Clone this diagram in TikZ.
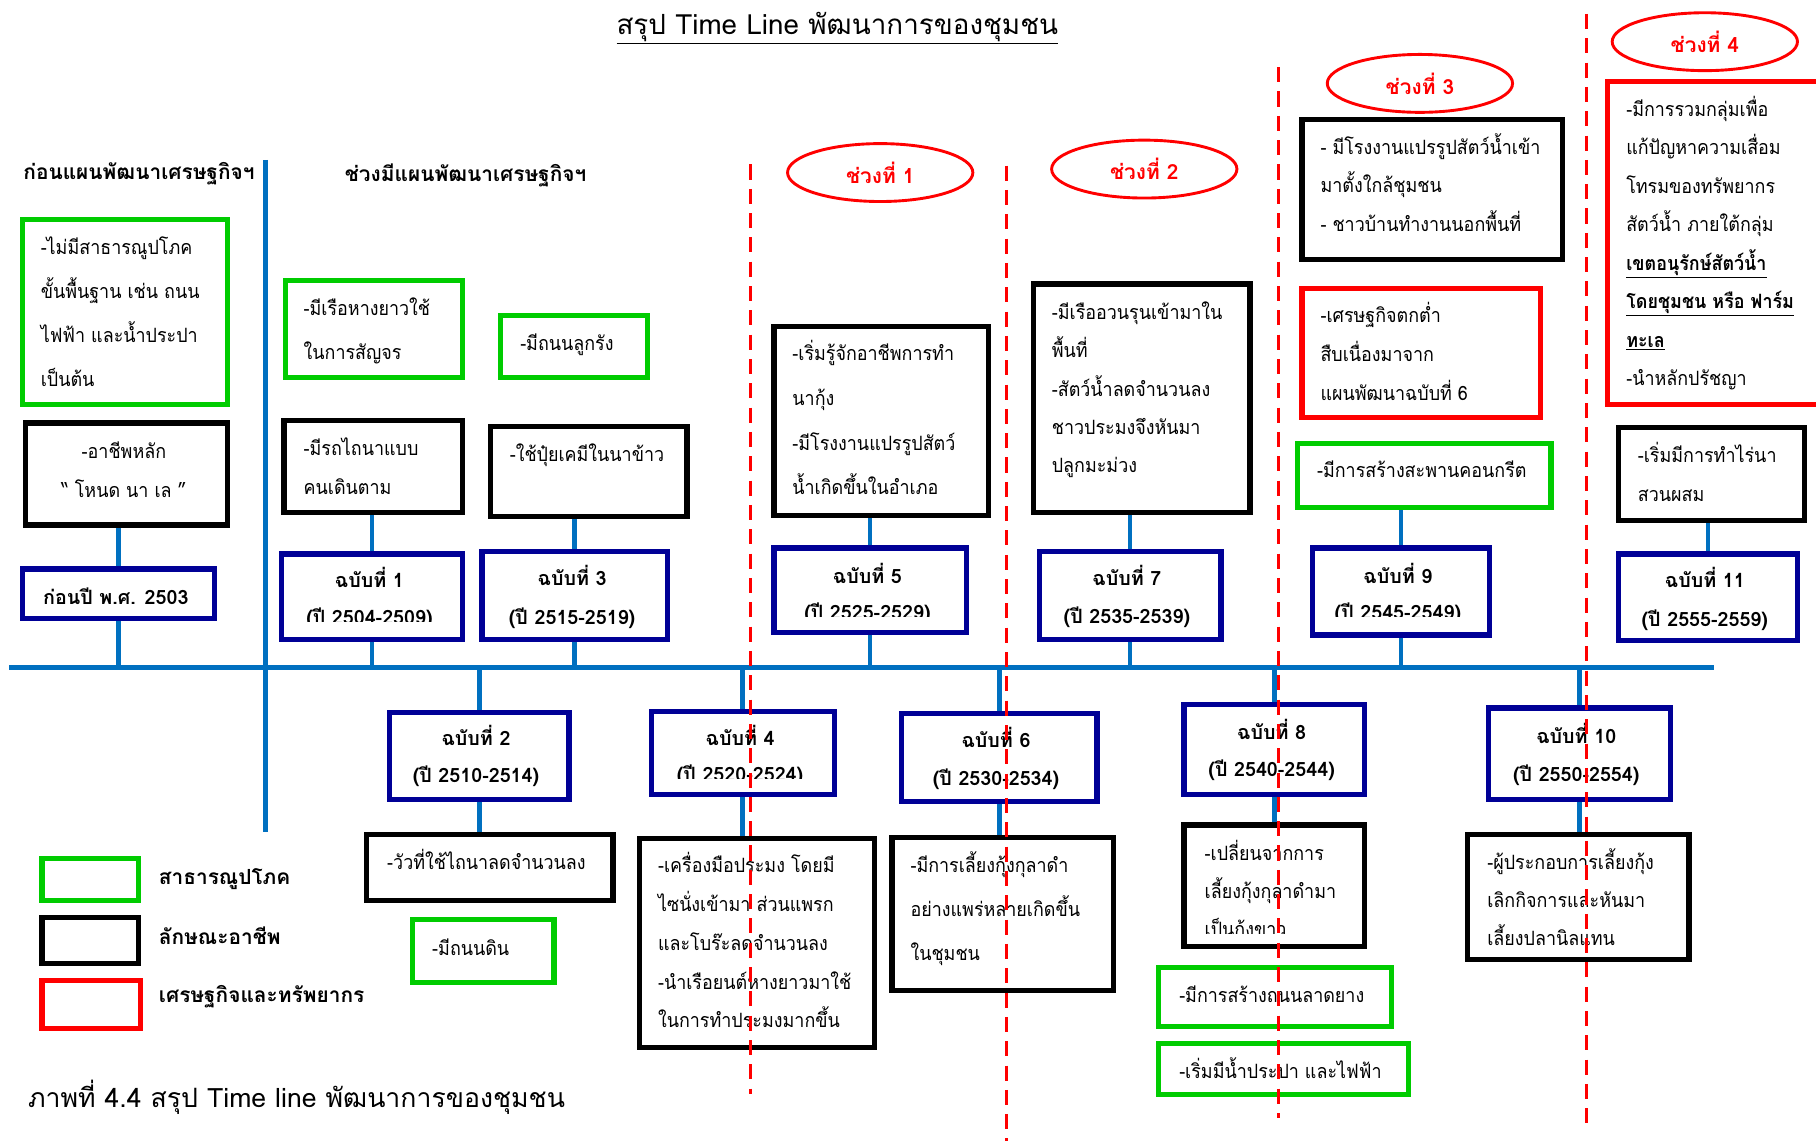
\documentclass[tikz,border=0pt]{standalone}
\usepackage{fontspec}
\setmainfont[Script=Thai]{Loma}
\newfontfamily\bodyfont[Script=Thai, FakeStretch=0.91]{Loma}
\usetikzlibrary{shapes.geometric}
\definecolor{gr}{RGB}{0,204,0}
\definecolor{nv}{RGB}{0,0,150}
\definecolor{bl}{RGB}{0,112,192}
\definecolor{rd}{RGB}{255,0,0}
\tikzset{
 bx/.style={draw, line width=4.5pt, inner sep=0pt, anchor=north west},
 gbx/.style={bx, draw=gr}, kbx/.style={bx, draw=black},
 rbx/.style={bx, draw=rd}, nbx/.style={bx, draw=nv},
 conn/.style={draw=bl, line width=4pt},
 sepline/.style={draw=rd, line width=3pt, dash pattern=on 13pt off 8pt},
 txt/.style={inner sep=0pt, font=\bodyfont\fontsize{17}{20}\selectfont},
 tl/.style={txt, anchor=mid west},
 tc/.style={txt, anchor=mid},
 hc/.style={tc, font=\fontsize{17}{20}\selectfont\bfseries},
 hd/.style={tc, font=\fontsize{18}{20}\selectfont\bfseries},
 hl/.style={tl, font=\fontsize{18}{20}\selectfont\bfseries},
 ell/.style={ellipse, draw=rd, line width=2.5pt, minimum width=160pt, minimum height=50pt, text=rd, inner sep=0pt, font=\fontsize{18}{20}\selectfont\bfseries}
}
\newcommand\bx[6]{\node[#2, minimum width={(#5-#3)*1pt}, minimum height={(#6-#4)*1pt}] (#1) at (#3,#4) {};}
\newcommand\tx[6]{\foreach \t [count=\i from 0] in {#6} {\node[#2] (#1-\i) at (#3, {#4+4+\i*#5}) {\t};}}
% clipped single line: name, style, x, y, clip-bottom, text
\newcommand\cx[6]{\begin{scope}\clip (#3-120,#4-30) rectangle (#3+140,#5);\node[#2] (#1) at (#3,#4+4) {#6};\end{scope}}
\begin{document}
\begin{tikzpicture}[x=1pt,y=-1pt]
\useasboundingbox (0,0) rectangle (1568,987);
% title
\node[tc, font=\fontsize{24}{28}\selectfont] (title) at (723,27) {\underline{สรุป Time Line พัฒนาการของชุมชน}};
\node[hd] (h1) at (120,152) {ก่อนแผนพัฒนาเศรษฐกิจฯ};
\node[hd] (h2) at (402,154) {ช่วงมีแผนพัฒนาเศรษฐกิจฯ};
% timeline
\coordinate (tlL) at (8,576);
\coordinate (tlR) at (1480,576);
\coordinate (vT) at (229,138);
\coordinate (vB) at (229,718);
\draw[conn, line width=4.5pt] (tlL) -- (tlR);
\draw[conn] (vT) -- (vB);
% boxes
\bx{g1}{gbx}{17}{187}{194}{347}
\bx{b1}{kbx}{20}{363}{194}{451}
\bx{n0}{nbx}{17}{489}{183}{532}
\bx{g2}{gbx}{244}{240}{397}{324}
\bx{b2}{kbx}{243}{361}{397}{440}
\bx{n1}{nbx}{241}{476}{397}{550}
\bx{g3}{gbx}{430}{270}{557}{324}
\bx{b3}{kbx}{421}{366}{591}{444}
\bx{n3}{nbx}{414}{474}{574}{550}
\bx{n2}{nbx}{334}{613}{489}{688}
\bx{b4}{kbx}{314}{718}{527}{775}
\bx{g4}{gbx}{354}{792}{476}{846}
\bx{n4}{nbx}{560}{612}{718}{684}
\bx{b5}{kbx}{550}{722}{753}{902}
\bx{b6}{kbx}{666}{280}{851}{443}
\bx{n5}{nbx}{666}{471}{832}{544}
\bx{n6}{nbx}{776}{614}{945}{690}
\bx{b7}{kbx}{768}{721}{959}{853}
\bx{b8}{kbx}{890}{243}{1077}{440}
\bx{n7}{nbx}{895}{474}{1052}{550}
\bx{n8}{nbx}{1020}{606}{1176}{684}
\bx{b9}{kbx}{1020}{710}{1176}{815}
\bx{g5}{gbx}{998}{833}{1199}{884}
\bx{g6}{gbx}{998}{899}{1214}{943}
\bx{b10}{kbx}{1122}{101}{1347}{222}
\bx{r1}{rbx}{1122}{247}{1328}{358}
\bx{g7}{gbx}{1118}{381}{1337}{436}
\bx{n9}{nbx}{1131}{471}{1284}{546}
\bx{n10}{nbx}{1283}{609}{1440}{688}
\bx{b11}{kbx}{1265}{718}{1456}{826}
\bx{r2}{rbx}{1386}{68}{1580}{347}
\bx{b12}{kbx}{1395}{367}{1556}{447}
\bx{n11}{nbx}{1395}{476}{1550}{551}
% legend
\bx{lg}{gbx}{34}{739}{117}{775}
\bx{lk}{kbx}{34}{790}{117}{830}
\bx{lr}{rbx}{34}{844}{119}{886}
\node[hl] (lgt) at (137,761) {สาธารณูปโภค};
\node[hl] (lkt) at (137,813) {ลักษณะอาชีพ};
\node[hl] (lrt) at (137,863) {เศรษฐกิจและทรัพยากร};
% connectors
\draw[conn] (n0.north) -- (n0.north |- b1.south);
\draw[conn] (n0.south) -- (n0.south |- tlL);
\draw[conn] (n1.north) -- (n1.north |- b2.south);
\draw[conn] (n1.south) -- (n1.south |- tlL);
\draw[conn] (n3.north) -- (n3.north |- b3.south);
\draw[conn] (n3.south) -- (n3.south |- tlL);
\draw[conn] (n2.north |- tlL) -- (n2.north);
\draw[conn] (n2.south) -- (n2.south |- b4.north);
\draw[conn] (n4.north |- tlL) -- (n4.north);
\draw[conn] (n4.south) -- (n4.south |- b5.north);
\draw[conn] (n5.north) -- (n5.north |- b6.south);
\draw[conn] (n5.south) -- (n5.south |- tlL);
\draw[conn] (n6.north |- tlL) -- (n6.north);
\draw[conn] (n6.south) -- (n6.south |- b7.north);
\draw[conn] (n7.north) -- (n7.north |- b8.south);
\draw[conn] (n7.south) -- (n7.south |- tlL);
\draw[conn] (n8.north |- tlL) -- (n8.north);
\draw[conn] (n8.south) -- (n8.south |- b9.north);
\draw[conn] (n9.north) -- (n9.north |- g7.south);
\draw[conn] (n9.south) -- (n9.south |- tlL);
\draw[conn] (n10.north |- tlL) -- (n10.north);
\draw[conn] (n10.south) -- (n10.south |- b11.north);
\draw[conn] (n11.north) -- (n11.north |- b12.south);
% texts
\tx{g1t}{tl}{35}{213}{38}{-ไม่มีสาธารณูปโภค,ขั้นพื้นฐาน เช่น ถนน,ไฟฟ้า และน้ำประปา,เป็นต้น}
\tx{b1t}{tc}{107}{389}{34}{-อาชีพหลัก,“ โหนด นา เล ”}
\tx{n0t}{hc}{100}{515}{32}{ก่อนปี พ.ศ. 2503}
\tx{g2t}{tl}{262}{266}{38}{-มีเรือหางยาวใช้,ในการสัญจร}
\tx{b2t}{tl}{262}{387}{33}{-มีรถไถนาแบบ,คนเดินตาม}
\tx{n1t}{hc}{319}{501}{32}{ฉบับที่ 1}
\cx{n1y}{hc}{319}{533}{537}{(ปี 2504-2509)}
\tx{g3t}{tl}{449}{296}{33}{-มีถนนลูกรัง}
\tx{b3t}{tl}{440}{392}{33}{-ใช้ปุ๋ยเคมีในนาข้าว}
\tx{n3t}{hc}{494}{499}{34}{ฉบับที่ 3,(ปี 2515-2519)}
\tx{n2t}{hc}{411}{637}{32}{ฉบับที่ 2,(ปี 2510-2514)}
\tx{b4t}{tc}{420}{744}{33}{-วัวที่ใช้ไถนาลดจำนวนลง}
\tx{g4t}{tl}{373}{818}{33}{-มีถนนดิน}
\tx{n4t}{hc}{639}{637}{31}{ฉบับที่ 4}
\cx{n4y}{hc}{639}{668}{672}{(ปี 2520-2524)}
\tx{b5t}{tl}{568}{747}{33.5}{-เครื่องมือประมง โดยมี,ไซนั่งเข้ามา ส่วนแพรก,และโบร๊ะลดจำนวนลง,-นำเรือยนต์หางยาวมาใช้,ในการทำประมงมากขึ้น}
\tx{b6t}{tl}{684}{305}{38.5}{-เริ่มรู้จักอาชีพการทำ,นากุ้ง,-มีโรงงานแปรรูปสัตว์,น้ำเกิดขึ้นในอำเภอ}
\tx{n5t}{hc}{749}{497}{31}{ฉบับที่ 5}
\cx{n5y}{hc}{749}{528}{532}{(ปี 2525-2529)}
\tx{n6t}{hc}{860}{639}{33}{ฉบับที่ 6,(ปี 2530-2534)}
\tx{b7t}{tl}{786}{747}{38}{-มีการเลี้ยงกุ้งกุลาดำ,อย่างแพร่หลายเกิดขึ้น,ในชุมชน}
\tx{b8t}{tl}{908}{269}{33.2}{-มีเรืออวนรุนเข้ามาใน,พื้นที่,-สัตว์น้ำลดจำนวนลง,ชาวประมงจึงหันมา,ปลูกมะม่วง}
\tx{n7t}{hc}{973}{499}{33}{ฉบับที่ 7,(ปี 2535-2539)}
\tx{n8t}{hc}{1098}{632}{32}{ฉบับที่ 8,(ปี 2540-2544)}
\tx{b9t}{tl}{1040}{736}{33}{-เปลี่ยนจากการ,เลี้ยงกุ้งกุลาดำมา}
\begin{scope}\clip (1030,780) rectangle (1170,806);\node[tl] (b9t-2) at (1040,806) {เป็นกุ้งขาว};\end{scope}
\tx{g5t}{tl}{1018}{859}{33}{-มีการสร้างถนนลาดยาง}
\tx{g6t}{tl}{1018}{925}{33}{-เริ่มมีน้ำประปา และไฟฟ้า}
\tx{b10t}{tl}{1140}{127}{33}{- มีโรงงานแปรรูปสัตว์น้ำเข้า,มาตั้งใกล้ชุมชน,- ชาวบ้านทำงานนอกพื้นที่}
\tx{r1t}{tl}{1140}{272}{33.5}{-เศรษฐกิจตกต่ำ,สืบเนื่องมาจาก,แผนพัฒนาฉบับที่ 6}
\tx{g7t}{tl}{1137}{406}{33}{-มีการสร้างสะพานคอนกรีต}
\tx{n9t}{hc}{1207}{497}{31}{ฉบับที่ 9}
\cx{n9y}{hc}{1207}{528}{532}{(ปี 2545-2549)}
\tx{n10t}{hc}{1361}{635}{33}{ฉบับที่ 10,(ปี 2550-2554)}
\tx{b11t}{tl}{1284}{744}{33}{-ผู้ประกอบการเลี้ยงกุ้ง,เลิกกิจการและหันมา,เลี้ยงปลานิลแทน}
\tx{r2t}{tl}{1404}{94}{33.2}{-มีการรวมกลุ่มเพื่อ,แก้ปัญหาความเสื่อม,โทรมของทรัพยากร,สัตว์น้ำ ภายใต้กลุ่ม,{\bfseries\underline{เขตอนุรักษ์สัตว์น้ำ}},{\bfseries\underline{โดยชุมชน หรือ ฟาร์ม}},{\bfseries\underline{ทะเล}},-นำหลักปรัชญา}
\tx{b12t}{tl}{1414}{393}{33}{-เริ่มมีการทำไร่นา,สวนผสม}
\tx{n11t}{hc}{1472}{501}{33}{ฉบับที่ 11,(ปี 2555-2559)}
% ellipses
\node[ell] (e1) at (760,149) {ช่วงที่ 1};
\node[ell] (e2) at (988,146) {ช่วงที่ 2};
\node[ell] (e3) at (1226,72) {ช่วงที่ 3};
\node[ell] (e4) at (1472,36) {ช่วงที่ 4};
% caption
\node[tl, font=\fontsize{23}{28}\selectfont] (cap) at (24,954) {ภาพที่ 4.4 สรุป Time line พัฒนาการของชุมชน};
% period separators
\draw[sepline] (648,142) -- (648,945);
\draw[sepline] (869,143) -- (869,985);
\draw[sepline] (1104,58) -- (1104,965);
\draw[sepline] (1370,12) -- (1370,975);
\end{tikzpicture}
\end{document}
